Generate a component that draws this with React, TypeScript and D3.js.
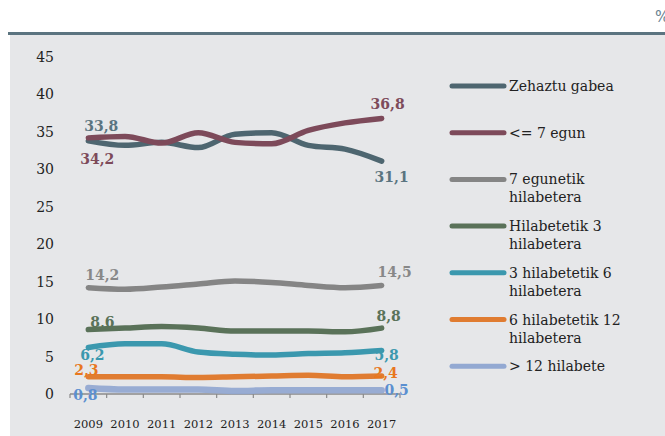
import React from "react";
import * as d3 from "d3";

const years = ["2009", "2010", "2011", "2012", "2013", "2014", "2015", "2016", "2017"];
const yTicks = [0, 5, 10, 15, 20, 25, 30, 35, 40, 45];

const seriesNames = [
  "Zehaztu gabea",
  "<= 7 egun",
  "7 egunetik hilabetera",
  "Hilabetetik 3 hilabetera",
  "3 hilabetetik 6 hilabetera",
  "6 hilabetetik 12 hilabetera",
  "> 12 hilabete",
];
const legendLines = [
  ["Zehaztu gabea"],
  ["<= 7 egun"],
  ["7 egunetik", "hilabetera"],
  ["Hilabetetik 3", "hilabetera"],
  ["3 hilabetetik 6", "hilabetera"],
  ["6 hilabetetik 12", "hilabetera"],
  ["> 12 hilabete"],
];

const zehaztuGabea = [33.8, 33.2, 33.6, 32.9, 34.7, 34.9, 33.2, 32.7, 31.1];
const zazpiEgun = [34.2, 34.4, 33.5, 34.9, 33.6, 33.4, 35.2, 36.2, 36.8];
const egunetikHilabetera = [14.2, 14.0, 14.3, 14.7, 15.1, 14.9, 14.5, 14.2, 14.5];
const hilabetetik3 = [8.6, 8.8, 9.0, 8.8, 8.4, 8.4, 8.4, 8.3, 8.8];
const hilabetetik6 = [6.2, 6.7, 6.7, 5.6, 5.3, 5.2, 5.4, 5.5, 5.8];
const hilabetetik12 = [2.3, 2.3, 2.3, 2.2, 2.3, 2.4, 2.5, 2.3, 2.4];
const hilabeteBaino = [0.8, 0.6, 0.6, 0.6, 0.4, 0.5, 0.5, 0.5, 0.5];

const allSeries = [
  zehaztuGabea,
  zazpiEgun,
  egunetikHilabetera,
  hilabetetik3,
  hilabetetik6,
  hilabetetik12,
  hilabeteBaino,
];

const lineColors = ["#4e6670", "#7d4a5a", "#858585", "#5a7259", "#3b98ae", "#e07c31", "#93a9d2"];
const labelColors = ["#5a7480", "#7d4a5a", "#888888", "#5a7259", "#3b98ae", "#e8771e", "#5b8fd0"];

// label offsets [first dx, first dy, last dx, last dy] relative to point (text centre)
const labelOffsets = [
  [13, -15, 10, 16],
  [9, 21, 6, -14],
  [14, -13, 13, -13],
  [14, -8, 7, -12],
  [4, 7, 5, 4],
  [-2, -7, 4, -3],
  [-3, 7, 15, 0],
];

const fmt = (v: number) => v.toFixed(1).replace(".", ",");

export default function App() {
  const W = 665;
  const H = 436;
  const x = d3.scaleBand<string>().domain(years).range([70, 400]).padding(0);
  const y = d3.scaleLinear().domain([0, 45]).range([394, 57]);
  const cx = (yr: string) => (x(yr) as number) + x.bandwidth() / 2;
  const line = d3
    .line<number>()
    .x((_, i) => cx(years[i]))
    .y((d) => y(d))
    .curve(d3.curveMonotoneX);

  const serif = "'DejaVu Serif', serif";
  const tickBounds = d3.range(years.length + 1).map((i) => 70 + i * x.step());

  return (
    <svg
      width={W}
      height={H}
      style={{ position: "absolute", left: 0, top: 0, background: "#fff" }}
    >
      <rect x={10} y={34} width={W - 10} height={H - 34} fill="#e6e7e9" />
      <line x1={8} x2={W} y1={33.5} y2={33.5} stroke="#5b7480" strokeWidth={3} />
      <text x={655} y={22} fontFamily="'DejaVu Sans', sans-serif" fontSize={15} fill="#6a8290">
        %
      </text>

      {yTicks.map((t) => (
        <text
          key={t}
          x={54}
          y={y(t) + 5}
          textAnchor="end"
          fontFamily={serif}
          fontSize={14}
          fill="#222"
        >
          {t}
        </text>
      ))}

      <line x1={70} x2={400} y1={394} y2={394} stroke="#8a8a8a" strokeWidth={1.5} />
      {tickBounds.map((b, i) => (
        <line key={i} x1={b} x2={b} y1={394} y2={398} stroke="#8a8a8a" strokeWidth={1.2} />
      ))}
      {years.map((yr) => (
        <text
          key={yr}
          x={cx(yr)}
          y={428}
          textAnchor="middle"
          fontFamily={serif}
          fontSize={11.5}
          fill="#222"
        >
          {yr}
        </text>
      ))}

      {allSeries.map((s, i) => (
        <path
          key={i}
          d={line(s) || ""}
          fill="none"
          stroke={lineColors[i]}
          strokeWidth={i === 6 ? 6.5 : 5.5}
          strokeLinecap="round"
          strokeLinejoin="round"
          opacity={i === 6 ? 0.95 : 1}
        />
      ))}

      {allSeries.map((s, i) => {
        const o = labelOffsets[i];
        const n = s.length - 1;
        return (
          <g key={i} fontFamily={serif} fontSize={14} fontWeight="bold" fill={labelColors[i]} textAnchor="middle">
            <text x={cx(years[0]) + o[0]} y={y(s[0]) + o[1] + 5}>
              {fmt(s[0])}
            </text>
            <text x={cx(years[n]) + o[2]} y={y(s[n]) + o[3] + 5}>
              {fmt(s[n])}
            </text>
          </g>
        );
      })}

      {seriesNames.map((name, i) => {
        const ly = 86 + i * 46.7;
        return (
          <g key={name}>
            <line
              x1={452}
              x2={504}
              y1={ly}
              y2={ly}
              stroke={lineColors[i]}
              strokeWidth={5}
              strokeLinecap="round"
            />
            <text x={509} y={ly + 5} fontFamily={serif} fontSize={14} fill="#222">
              {legendLines[i].map((t, j) => (
                <tspan key={j} x={509} dy={j === 0 ? 0 : 18}>
                  {t}
                </tspan>
              ))}
            </text>
          </g>
        );
      })}
    </svg>
  );
}
